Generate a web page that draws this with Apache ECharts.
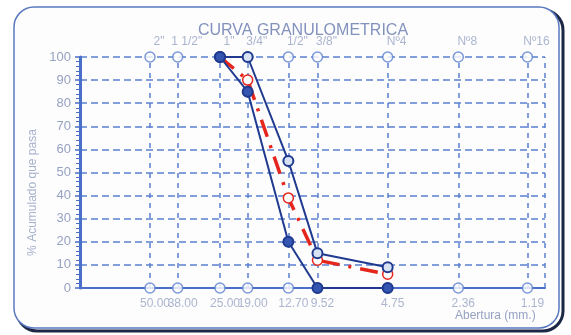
<!DOCTYPE html>
<html>
<head>
<meta charset="utf-8">
<script src="https://cdn.jsdelivr.net/npm/echarts@6/dist/echarts.min.js"></script>
<style>
html,body{margin:0;padding:0;background:#ffffff;}
#chart{width:571px;height:335px;}
</style>
</head>
<body>
<div id="chart"></div>
<script>
// ---- data ----
const sieveMm = [50, 38, 25, 19, 12.7, 9.52, 4.75, 2.36, 1.19];
const sieveNames = ['2"', '1 1/2"', '1"', '3/4"', '1/2"', '3/8"', 'Nº4', 'Nº8', 'Nº16'];
const curveMm = [25, 19, 12.7, 9.52, 4.75];
const upperLimit = [100, 100, 55, 15, 9];
const lowerLimit = [100, 85, 20, 0, 0];
const sample = [100, 90, 39, 12, 6];
const yTicks = [0, 10, 20, 30, 40, 50, 60, 70, 80, 90, 100];

const xMin = 1, xMax = 100;
const blue = '#4a6fc8';
const navy = '#1f3a8f';
const labelGray = '#96a2c2';

const chart = echarts.init(document.getElementById('chart'), null, {renderer: 'canvas'});

function pairs(xs, ys) { return xs.map((x, i) => [x, ys[i]]); }

chart.setOption({
  animation: false,
  backgroundColor: '#ffffff',
  title: {
    text: 'CURVA GRANULOMETRICA',
    left: 298, top: 18, textAlign: 'center',
    textStyle: {fontFamily: 'Liberation Sans, Arial', fontSize: 16, fontWeight: 'normal', color: '#8292bd'}
  },
  graphic: [
    {type: 'rect', z: -10, shape: {x: 17, y: 10, width: 546, height: 321, r: 20},
     style: {fill: 'none', stroke: '#1b2744', lineWidth: 3}},
    {type: 'rect', z: -9, shape: {x: 14, y: 7, width: 545, height: 321, r: 20},
     style: {fill: '#fdfdfe', stroke: '#5a78c0', lineWidth: 1.5}},
    {type: 'text', left: 455, top: 310,
     style: {text: 'Abertura (mm.)', fill: labelGray, font: '12px Liberation Sans, Arial'}}
  ],
  grid: {left: 80, right: 26, top: 57, bottom: 47},
  xAxis: {
    type: 'log', logBase: 10, min: xMin, max: xMax, inverse: true,
    axisLine: {show: true, lineStyle: {color: blue, width: 2}},
    axisTick: {show: false},
    axisLabel: {show: false},
    splitLine: {show: false}
  },
  yAxis: {
    type: 'value', min: 0, max: 100, interval: 10,
    name: '% Acumulado que pasa', nameLocation: 'middle', nameGap: 34,
    nameTextStyle: {color: '#a6b1cc', fontSize: 12, fontFamily: 'Liberation Sans, Arial', padding: [0, 0, 0, -40]},
    axisLine: {show: true, lineStyle: {color: blue, width: 3}},
    axisTick: {show: true, length: 5, lineStyle: {color: blue, width: 1.5}},
    minorTick: {show: true, splitNumber: 5, length: 4, lineStyle: {color: blue, width: 1}},
    axisLabel: {color: labelGray, fontSize: 13, margin: 9, fontFamily: 'Liberation Sans, Arial',
      formatter: v => yTicks.includes(v) ? String(v) : ''},
    splitLine: {show: true, lineStyle: {color: '#5b80d0', width: 1.5, type: [7, 4]}}
  },
  series: [
    {
      name: 'tamices-sup', type: 'scatter', z: 3,
      data: sieveMm.map((v, i) => ({value: [v, 100], name: sieveNames[i]})),
      symbol: 'circle', symbolSize: 10,
      itemStyle: {color: '#ffffff', borderColor: '#5b7fd0', borderWidth: 1.5},
      label: {show: true, position: 'top', distance: 4, offset: [9, 0], color: labelGray,
        fontSize: 12, fontFamily: 'Liberation Sans, Arial', formatter: p => p.name},
      markLine: {
        silent: true, symbol: 'none', z: 1,
        lineStyle: {color: '#5b80d0', width: 1.5, type: [5, 5]},
        label: {show: false},
        data: sieveMm.map(v => ({xAxis: v})).concat([{xAxis: xMin}])
      }
    },
    {
      name: 'tamices-inf', type: 'scatter', z: 3,
      data: sieveMm.map(v => [v, 0]),
      symbol: 'circle', symbolSize: 10,
      itemStyle: {color: '#ffffff', borderColor: '#5b7fd0', borderWidth: 1.5},
      label: {show: true, position: 'bottom', distance: 4, offset: [5, 0], color: labelGray,
        fontSize: 12, fontFamily: 'Liberation Sans, Arial', formatter: p => p.value[0].toFixed(2)}
    },
    {
      name: 'muestra', type: 'line', z: 4,
      data: pairs(curveMm, sample),
      symbol: 'circle', symbolSize: 10,
      lineStyle: {color: '#e5261c', width: 3.5, type: [18, 9, 3, 9]},
      itemStyle: {color: '#ffffff', borderColor: '#e5261c', borderWidth: 1.5}
    },
    {
      name: 'limite superior', type: 'line', z: 5,
      data: pairs(curveMm, upperLimit),
      symbol: 'circle', symbolSize: 10,
      lineStyle: {color: navy, width: 2},
      itemStyle: {color: '#d8e2f5', borderColor: navy, borderWidth: 2}
    },
    {
      name: 'limite inferior', type: 'line', z: 5,
      data: pairs(curveMm, lowerLimit),
      symbol: 'circle', symbolSize: 10,
      lineStyle: {color: navy, width: 2},
      itemStyle: {color: '#3556b0', borderColor: navy, borderWidth: 2}
    }
  ]
});
</script>
</body>
</html>
